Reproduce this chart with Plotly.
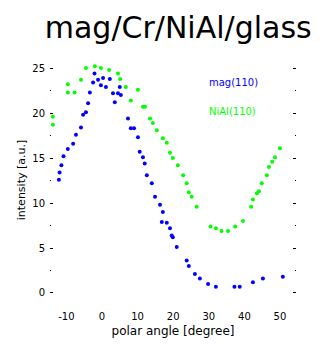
import plotly.graph_objects as go

title_text = "mag/Cr/NiAl/glass"
x_title = "polar angle [degree]"
y_title = "intensity [a.u.]"
name_blue = "mag(110)"
name_green = "NiAl(110)"

x_ticks = [-10, 0, 10, 20, 30, 40, 50]
y_ticks = [0, 5, 10, 15, 20, 25]

blue_x = [-12.1, -11.9, -11.4, -10.8, -9.6, -8.1, -7.3, -5.9, -5.3, -4.5, -3.9, -3.4,
          -2.5, -2.1, -1.1, -0.3, 0.3, 1.1, 2.2, 3.1, 3.6, 4.5, 5.0, 5.3, 7.3, 8.1, 9.0,
          10.1, 10.6, 11.5, 12.0, 12.6, 14.0, 14.9, 16.3, 17.1, 16.8, 18.2, 19.1, 19.6,
          19.9, 21.0, 23.8, 24.4, 26.1, 27.5, 29.8, 32.0, 37.2, 38.7, 42.4, 45.2, 50.8]
blue_y = [12.6, 13.4, 14.2, 15.2, 16.0, 16.6, 17.6, 18.4, 19.8, 20.1, 21.1, 22.3,
          23.4, 24.4, 23.7, 23.1, 23.9, 22.9, 23.8, 22.2, 21.2, 22.2, 22.9, 22.0, 19.4, 18.3, 18.3,
          17.3, 15.7, 15.1, 14.4, 13.1, 12.2, 10.7, 9.8, 9.0, 7.9, 7.8, 7.2, 6.4,
          6.2, 5.1, 3.6, 3.0, 2.1, 1.6, 1.0, 0.7, 0.7, 0.7, 1.2, 1.6, 1.8]

green_x = [-13.8, -13.8, -9.6, -9.6, -7.7, -5.9, -4.5, -2.0, -0.3, 2.0, 4.5, 5.1, 6.7,
           8.1, 10.1, 11.5, 12.1, 13.5, 14.3, 15.4, 17.1, 18.2, 19.1, 19.9, 21.3, 22.8,
           23.8, 24.4, 25.2, 26.6, 30.5, 32.0, 33.6, 35.4, 37.4, 39.6, 41.9, 42.4, 43.5,
           44.1, 44.9, 46.3, 46.9, 47.8, 48.6, 50.0]
green_y = [19.6, 18.7, 22.3, 23.2, 22.3, 23.7, 25.0, 25.2, 25.0, 24.8, 24.4, 23.8, 22.9,
           21.4, 22.6, 20.7, 20.7, 19.4, 18.9, 18.1, 17.2, 16.7, 15.6, 15.0, 14.2, 13.1,
           12.2, 11.2, 10.7, 9.6, 7.4, 7.2, 6.9, 6.9, 7.4, 8.0, 9.6, 10.4, 11.1,
           11.3, 12.2, 13.1, 14.0, 14.6, 15.1, 16.1]

BLUE = "#0000ff"
GREEN = "#00ff00"

fig = go.Figure()
fig.add_trace(go.Scatter(x=green_x, y=green_y, mode="markers", name=name_green,
                         marker=dict(color=GREEN, size=4, line=dict(width=0))))
fig.add_trace(go.Scatter(x=blue_x, y=blue_y, mode="markers", name=name_blue,
                         marker=dict(color=BLUE, size=4, line=dict(width=0))))

fig.add_annotation(x=0.64, y=0.905, xref="paper", yref="paper", text=name_blue,
                   showarrow=False, xanchor="left", yanchor="middle",
                   font=dict(family="DejaVu Sans", size=10, color=BLUE))
fig.add_annotation(x=0.64, y=0.785, xref="paper", yref="paper", text=name_green,
                   showarrow=False, xanchor="left", yanchor="middle",
                   font=dict(family="DejaVu Sans", size=10, color=GREEN))

fig.update_layout(
    width=327, height=346,
    margin=dict(l=50, r=31, t=60, b=46),
    paper_bgcolor="white", plot_bgcolor="white",
    showlegend=False,
    title=dict(text=title_text, x=0.545, xanchor="center", y=0.92, yanchor="middle",
               font=dict(family="DejaVu Sans", size=30, color="black")),
    font=dict(family="DejaVu Sans", color="black"),
)
fig.update_xaxes(range=[-14.6, 54.5], tickvals=x_ticks, ticktext=[str(v) for v in x_ticks],
                 showgrid=False, zeroline=False, showline=False, ticks="",
                 tickfont=dict(size=10), ticklabelstandoff=9,
                 title=dict(text=x_title, font=dict(size=12), standoff=5))
fig.update_yaxes(range=[-0.78, 25.9], tickvals=y_ticks, ticktext=[str(v) for v in y_ticks],
                 showgrid=False, zeroline=False, showline=False,
                 ticks="inside", ticklen=3, tickwidth=1, tickcolor="black", mirror="ticks",
                 minor=dict(ticks="inside", ticklen=1, tickwidth=1, dtick=2.5, tick0=0,
                            tickcolor="black", showgrid=False),
                 tickfont=dict(size=10), ticklabelstandoff=4,
                 title=dict(text=y_title, font=dict(size=11), standoff=4))

fig.write_html("out.html")
